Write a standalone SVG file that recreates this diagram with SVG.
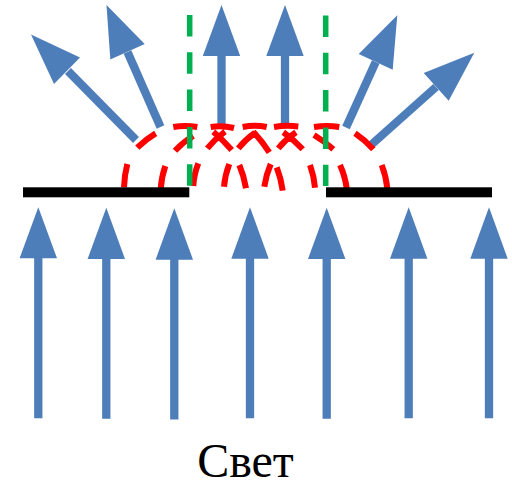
<svg xmlns="http://www.w3.org/2000/svg" width="512" height="482" viewBox="0 0 512 482">
<style>
.a{fill:#4e7eba}
.s{stroke:#4e7eba;stroke-width:8.300;fill:none}
.r{stroke:#ff0000;stroke-width:6;fill:none}
.g{stroke:#00b050;stroke-width:5.500;stroke-dasharray:21.500 15.800;fill:none}
.b{fill:#000}
text{font-family:"Liberation Serif","Times New Roman",serif;font-size:48px;fill:#000}
</style>
<g id="connectors">
<g id="up-rays">
<path class="s" d="M68 71L136 140"/><polygon class="a" points="31,34.500 80,57.500 54,84"/>
<path class="s" d="M127.500 52L160.500 127"/><polygon class="a" points="106.500,5 144.700,44 110.300,59.500"/>
<path class="s" d="M221.500 50V127"/><polygon class="a" points="221.500,5 240.200,56 202.800,56"/>
<path class="s" d="M285 50V126"/><polygon class="a" points="285,5 303.700,56 266.300,56"/>
<path class="s" d="M375.700 62L346 127.500"/><polygon class="a" points="397.300,15.300 358.700,54 392.700,69.700"/>
<path class="s" d="M436 87L371 145"/><polygon class="a" points="474.300,52.700 423.700,73 448.700,100.700"/>
</g>
<g id="in-rays">
<path class="s" d="M38.300 250V418.300"/><polygon class="a" points="38.300,207.300 57,258.300 19.600,258.300"/>
<path class="s" d="M106.300 250V418.700"/><polygon class="a" points="106.300,207.700 125,259 87.600,259"/>
<path class="s" d="M174.300 250V419.500"/><polygon class="a" points="174.300,208.300 193,259.700 155.600,259.700"/>
<path class="s" d="M250 250V418.300"/><polygon class="a" points="250,207.300 268.700,258.700 231.300,258.700"/>
<path class="s" d="M326.700 250V418.700"/><polygon class="a" points="326.700,207.700 345.400,259 308,259"/>
<path class="s" d="M408.700 250V418.300"/><polygon class="a" points="408.700,207.300 427.400,258.700 390,258.700"/>
<path class="s" d="M489 250V418.300"/><polygon class="a" points="489,207.300 507.700,258.700 470.300,258.700"/>
</g>
</g>
<g id="wavefronts">
<path class="r" d="M124 187.300Q124.500 175 127.300 164M160.700 189.300Q161.500 177 165.300 166M137.300 147.700Q146 139 155.700 133.300M173.300 127Q185 125 197.300 127M175 150.700Q183 142 193.300 136M193.300 186Q194 174 198.300 163.300M210.700 127Q222 125 234 128M207.300 148.300Q215 139 225 131.700M213.300 131.700Q223 140 231.700 150M224 186.700Q225 175 229.300 164M239.300 165Q244 176 246 188.300M242.700 127Q255 124.500 266.700 127M238.300 148.300Q246 139 255 132.700M253.300 131.700Q262 141 269.300 152.300M264.300 186.700Q266 175 270.700 164M276.700 167.300Q281 178 282.700 190.700M274 127Q286 125 298.300 126.500M278.300 148.300Q286 139 296 132.300M283.300 132.300Q294 140 302.700 149.300M310 165Q314 176 315 187.700M314 127Q327 125 339.300 127M314 135Q324 141 333.300 149.300M340 165Q345 176 346.700 188.300M355 133.300Q365 140 373.300 149.300M381.700 165Q386 176 387.300 188.300"/>
</g>
<g id="axes">
<path class="g" d="M189.700 15V186"/>
<path class="g" d="M325.700 15.500V186"/>
</g>
<g id="screen-left"><rect class="b" x="23" y="187.300" width="166.300" height="10"/></g>
<g id="screen-right"><rect class="b" x="326" y="187.300" width="166" height="10"/></g>
<g id="label"><text x="245.500" y="477" text-anchor="middle">Свет</text></g>
</svg>
